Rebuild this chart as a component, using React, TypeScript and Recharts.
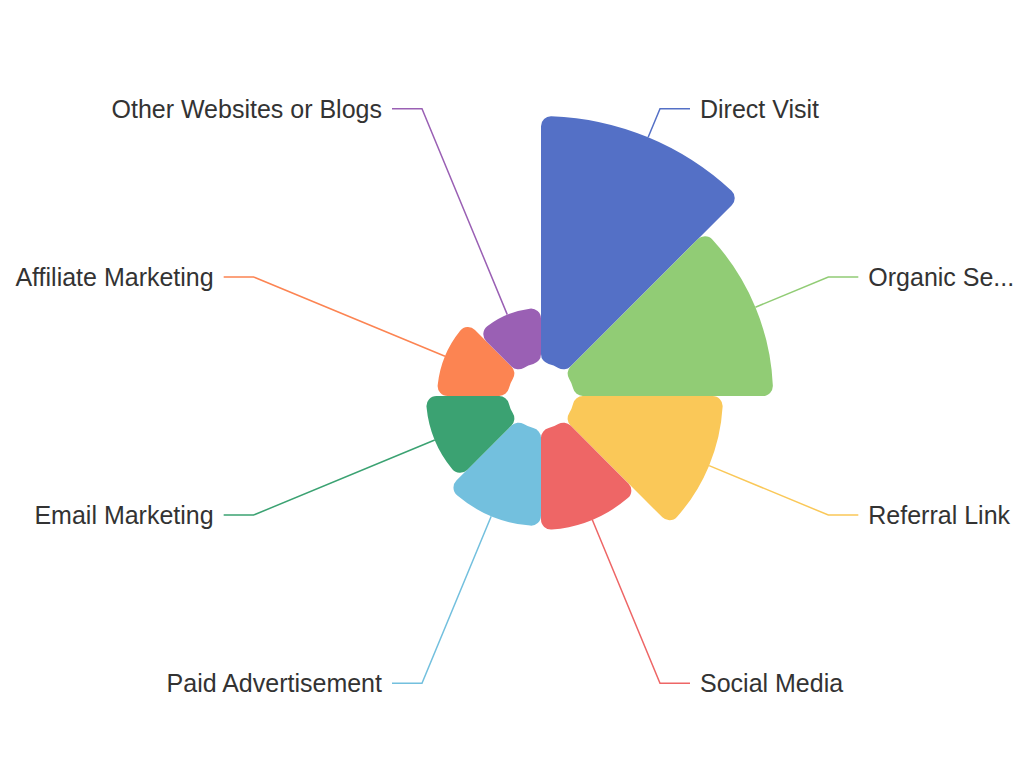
import { PieChart, Pie, Sector } from "recharts";

const categories = [
  "Direct Visit",
  "Organic Search",
  "Referral Link",
  "Social Media",
  "Paid Advertisement",
  "Email Marketing",
  "Affiliate Marketing",
  "Other Websites or Blogs",
];
const visits = [100, 80.6, 60.3, 40.9, 39.3, 33.2, 28.7, 22.3];
const colors = [
  "#5470c6",
  "#91cc75",
  "#fac858",
  "#ee6666",
  "#73c0de",
  "#3ba272",
  "#fc8452",
  "#9a60b4",
];

const WIDTH = 1016;
const HEIGHT = 778;
const CX = 541;
const CY = 396;
const INNER = 33;
const OUTER = 280;
const LABEL_R = 311;
const FONT = "25px 'Liberation Sans', Arial, sans-serif";

const maxVisit = Math.max(...visits);
const radiusOf = (v: number) => INNER + (v / maxVisit) * (OUTER - INNER);

const data = categories.map((name, i) => ({
  name,
  visits: visits[i],
  slot: 1,
  fill: colors[i],
}));

// cut long labels with "..." so they stay inside the canvas
function fitText(text: string, maxWidth: number) {
  const ctx = document.createElement("canvas").getContext("2d");
  if (!ctx) return text;
  ctx.font = FONT;
  if (ctx.measureText(text).width <= maxWidth) return text;
  let s = text;
  while (s.length > 1 && ctx.measureText(s + "...").width > maxWidth) {
    s = s.slice(0, -1);
  }
  return s.trimEnd() + "...";
}

function RoseSector(props: any) {
  const v = props.payload?.visits ?? props.visits;
  return (
    <Sector
      {...props}
      outerRadius={radiusOf(v)}
      cornerRadius={10}
      stroke="none"
    />
  );
}

function renderLabel(props: any) {
  const { cx, cy, midAngle, index } = props;
  const rad = (midAngle * Math.PI) / 180;
  const cos = Math.cos(rad);
  const sin = Math.sin(rad);
  const r = radiusOf(visits[index]);
  const x1 = cx + r * cos;
  const y1 = cy - r * sin;
  const x2 = cx + LABEL_R * cos;
  const y2 = cy - LABEL_R * sin;
  const right = cos >= 0;
  const x3 = x2 + (right ? 30 : -30);
  const tx = x3 + (right ? 10 : -10);
  const avail = right ? WIDTH - tx + 3 : tx + 3;
  const text = fitText(categories[index], avail);
  return (
    <g key={`label-${index}`}>
      <polyline
        points={`${x1},${y1} ${x2},${y2} ${x3},${y2}`}
        fill="none"
        stroke={colors[index]}
        strokeWidth={1.5}
      />
      <text
        x={tx}
        y={y2}
        textAnchor={right ? "start" : "end"}
        dominantBaseline="central"
        fill="#333"
        style={{ font: FONT }}
      >
        {text}
      </text>
    </g>
  );
}

export default function App() {
  return (
    <div style={{ position: "absolute", left: 0, top: 0, background: "#fff" }}>
      <PieChart
        width={WIDTH}
        height={HEIGHT}
        margin={{ top: 0, right: 0, bottom: 0, left: 0 }}
      >
        <Pie
          data={data}
          dataKey="slot"
          nameKey="name"
          cx={CX}
          cy={CY}
          innerRadius={INNER}
          outerRadius={OUTER}
          startAngle={90}
          endAngle={-270}
          stroke="none"
          shape={RoseSector}
          activeShape={RoseSector}
          inactiveShape={RoseSector}
          label={renderLabel}
          labelLine={false}
          isAnimationActive={false}
        />
      </PieChart>
    </div>
  );
}
